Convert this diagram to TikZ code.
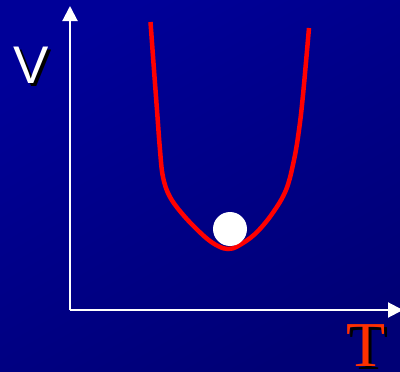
\documentclass[tikz,border=0pt]{standalone}
\usepackage{fontspec}
\setmainfont{Liberation Serif}
\setsansfont{Liberation Sans}
\usetikzlibrary{arrows.meta}
\definecolor{bgA}{RGB}{0,0,152}
\definecolor{bgB}{RGB}{0,0,118}
\definecolor{curvered}{RGB}{255,0,0}
\definecolor{tred}{RGB}{255,48,0}
\newcommand{\shadowtext}[2]{\rlap{\hspace{3pt}\raisebox{-3pt}{\color{black}#2}}{\color{#1}#2}}
\tikzset{
  axis/.style={white, line width=2pt, -{Triangle[length=15pt,width=15pt]}},
  potential/.style={curvered, line width=4.5pt},
  ball/.style={circle, fill=white, minimum size=34pt, inner sep=0pt},
  vlabel/.style={font=\sffamily\fontsize{53}{53}\selectfont, inner sep=0pt, anchor=base},
  tlabel/.style={font=\rmfamily\fontsize{64}{64}\selectfont, inner sep=0pt, anchor=base}
}
\begin{document}
\begin{tikzpicture}[x=1pt,y=-1pt]
\useasboundingbox (0,0) rectangle (400,372);
\shade[shading=axis, top color=bgA, bottom color=bgB, shading angle=30] (0,0) rectangle (400,372);
\coordinate (O) at (70,310);
\coordinate (ytip) at (70,6);
\coordinate (xtip) at (403,310);
\begin{scope}
\clip (0,0) rectangle (400,372);
\draw[axis] (O) -- (ytip);
\draw[axis] (O) -- (xtip);
\end{scope}
\node[vlabel] (V) at (31.5,83) {\shadowtext{white}{V}};
\node[tlabel] (T) at (366.5,366) {\shadowtext{tred}{T}};
\draw[potential, line cap=butt] plot[smooth, tension=0.6] coordinates {(150.5,22) (154,70) (157,110) (160,150) (163,177) (170,197) (185,217) (205,237) (218,246) (228,249) (238,246) (255,234) (272,214) (286,190) (294,160) (299,130) (303,95) (309,28)};
\node[ball] (ball) at (230,229) {};
\end{tikzpicture}
\end{document}
